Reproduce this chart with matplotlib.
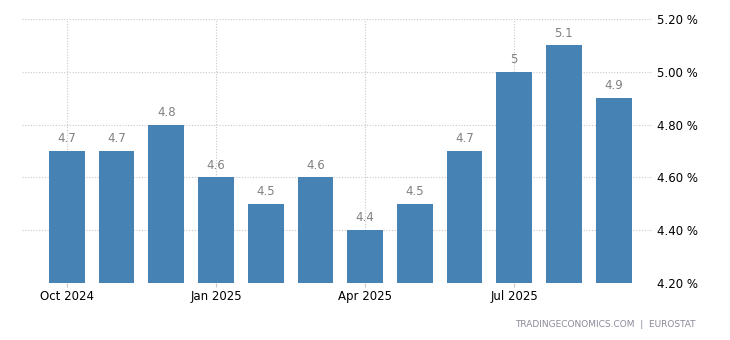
import matplotlib
matplotlib.use('Agg')
import matplotlib.pyplot as plt

months = ['Oct 2024', 'Nov 2024', 'Dec 2024', 'Jan 2025', 'Feb 2025', 'Mar 2025',
          'Apr 2025', 'May 2025', 'Jun 2025', 'Jul 2025', 'Aug 2025', 'Sep 2025']
values = [4.7, 4.7, 4.8, 4.6, 4.5, 4.6, 4.4, 4.5, 4.7, 5.0, 5.1, 4.9]
value_labels = ['4.7', '4.7', '4.8', '4.6', '4.5', '4.6', '4.4', '4.5', '4.7', '5', '5.1', '4.9']
yticks = [4.2, 4.4, 4.6, 4.8, 5.0, 5.2]
xtick_idx = [0, 3, 6, 9]

fig = plt.figure(figsize=(7.3, 3.4), dpi=100)
ax = fig.add_axes([0.030, 0.168, 0.863, 0.776])

x = list(range(len(months)))
ax.bar(x, values, width=0.72, color='#4682b4', zorder=2)

for xi, v, lab in zip(x, values, value_labels):
    ax.text(xi, v + 0.022, lab, ha='center', va='bottom', fontsize=8.5, color='#808080')

ax.set_ylim(4.2, 5.2)
ax.set_xlim(-0.905, 11.77)
ax.set_yticks(yticks)
ax.set_yticklabels([f'{t:.2f} %' for t in yticks])
ax.yaxis.tick_right()
ax.set_xticks(xtick_idx)
ax.set_xticklabels([months[i] for i in xtick_idx])

ax.grid(True, color='#c8c8c8', linestyle=(0, (1, 1.5)), linewidth=0.8, zorder=0)
for s in ax.spines.values():
    s.set_visible(False)
ax.tick_params(axis='y', length=0, labelsize=8.5, pad=4)
ax.tick_params(axis='x', length=3, color='#c8c8c8', labelsize=8.5, pad=2)

fig.text(0.953, 0.045, 'TRADINGECONOMICS.COM  |  EUROSTAT', ha='right', va='center',
         fontsize=6.5, color='#8a8a9a')

fig.savefig('out.png', dpi=100, facecolor='white')
